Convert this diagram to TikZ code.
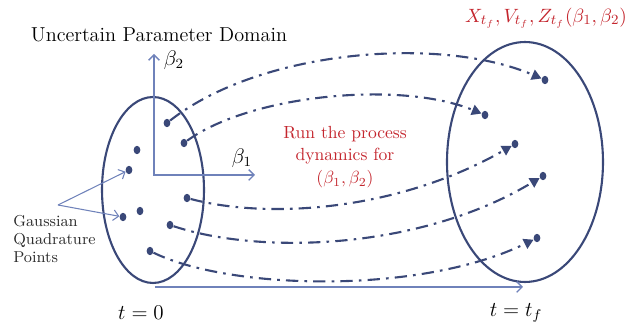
\documentclass[tikz,border=0pt]{standalone}
\usepackage{xcolor}
\usepackage{tikz}
\usepackage{amsmath}
\usetikzlibrary{
  arrows.meta,
  shapes.geometric,
  positioning,
  calc
}
\definecolor{gqNavy}{HTML}{3A4878}
\definecolor{gqAxis}{HTML}{6F82BA}
\definecolor{gqRed}{HTML}{C4262E}
\definecolor{gqText}{HTML}{2B2B2B}
\tikzset{
  gqdomain/.style={draw=gqNavy, ellipse, line width=1.2pt, inner sep=0pt},
  gqdot/.style={fill=gqNavy, ellipse, minimum width=3.8pt, minimum height=4.8pt, inner sep=0pt},
  gqflow/.style={-{Triangle[length=5.5pt, width=6pt]}, line width=1.2pt, gqNavy,
    dash pattern=on 7pt off 3.5pt on 1.5pt off 3.5pt},
  gqaxis/.style={gqAxis, line width=0.8pt},
  gqpointer/.style={-{Straight Barb[length=3pt, width=6pt]}, gqAxis, line width=0.6pt},
  gqlabel/.style={font=\fontsize{11.5}{14}\selectfont, text=black, inner sep=1pt},
  gqred/.style={font=\fontsize{10}{13}\selectfont, text=gqRed, align=center, inner sep=1pt},
  gqnote/.style={font=\fontsize{9}{10.5}\selectfont, text=gqText, align=left, inner sep=0pt}
}

\begin{document}
\begin{tikzpicture}[x=0.02cm, y=-0.02cm]
  \useasboundingbox (0,0) rectangle (627,330);
  % parameter domain at t=0 and at t=t_f
  \node[gqdomain, minimum width=2.04cm, minimum height=3.72cm] (dom0) at (153,190) {};
  \node[gqdomain, minimum width=3.12cm, minimum height=4.8cm] (domf) at (525,162) {};
  % beta axes and time axis
  \coordinate (b2end) at (154,54);
  \coordinate (b1end) at (255,175);
  \coordinate (tstart) at (155,287);
  \coordinate (tend) at (523,287);
  \draw[gqaxis, {Straight Barb[length=3pt, width=6pt]}-{Straight Barb[length=3pt, width=6pt]}] (b2end) |- (b1end);
  \draw[gqaxis, -{Straight Barb[length=3pt, width=6pt]}] (tstart) -- (tend);
  % quadrature points
  \node[gqdot] (q1) at (167,123) {}; \node[gqdot] (q2) at (184,143) {};
  \node[gqdot] (q3) at (137,150) {}; \node[gqdot] (q4) at (129,170) {};
  \node[gqdot] (q5) at (187,198) {}; \node[gqdot] (q6) at (140,211) {};
  \node[gqdot] (q7) at (123,217) {}; \node[gqdot] (q8) at (170,225) {};
  \node[gqdot] (q9) at (150,251) {};
  % propagated points
  \node[gqdot] (r1) at (545,80) {};  \node[gqdot] (r2) at (485,115) {};
  \node[gqdot] (r3) at (515,144) {}; \node[gqdot] (r4) at (543,176) {};
  \node[gqdot] (r5) at (537,238) {};
  \draw[gqflow] (q1) .. controls (260,50) and (440,35) .. (r1);
  \draw[gqflow] (q2) .. controls (250,95) and (400,80) .. (r2);
  \draw[gqflow] (q5) .. controls (270,220) and (400,210) .. (r3);
  \draw[gqflow] (q8) .. controls (260,255) and (420,250) .. (r4);
  \draw[gqflow] (q9) .. controls (230,290) and (420,295) .. (r5);
  % labels
  \node[gqlabel] (title) at (159,35) {Uncertain Parameter Domain};
  \node[gqlabel] (b2) at (174,60) {$\beta_2$};
  \node[gqlabel] (b1) at (242,158) {$\beta_1$};
  \node[gqlabel] (t0) at (141,313) {$t=0$};
  \node[gqlabel] (tf) at (516,313) {$t=t_f$};
  \node[gqred] (run) at (345,157) {Run the process\\dynamics for\\$(\beta_1,\beta_2)$};
  \node[gqred, font=\fontsize{11}{13}\selectfont] (out) at (546,18) {$X_{t_f},V_{t_f},Z_{t_f}(\beta_1,\beta_2)$};
  \node[gqnote, anchor=west] (gq) at (13,239) {Gaussian\\Quadrature\\Points};
  \coordinate (fork) at (58,205);
  \draw[gqpointer] (fork) -- (q4);
  \draw[gqpointer] (fork) -- (q7);
\end{tikzpicture}
\end{document}
